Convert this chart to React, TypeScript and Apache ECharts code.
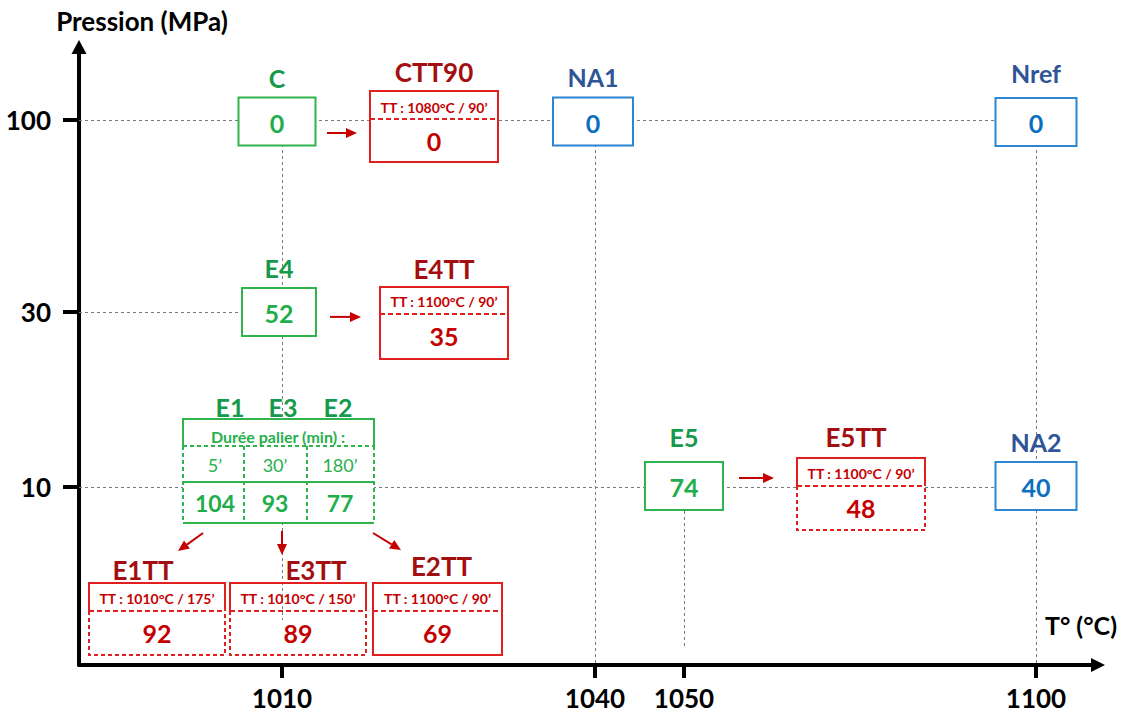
import React, { useEffect, useRef } from 'react';
import * as echarts from 'echarts';

// ---------------- data ----------------
const TEMP_TICKS = [1010, 1040, 1050, 1100];
const PRESS_TICKS = [10, 30, 100];

const SAMPLE_NAMES = ['C', 'NA1', 'Nref', 'E4', 'E5', 'NA2'];
const SAMPLE_TEMPS = [1010, 1040, 1100, 1010, 1050, 1100];
const SAMPLE_PRESSURES = [100, 100, 100, 30, 10, 10];
const SAMPLE_VALUES = [0, 0, 0, 52, 74, 40];
const SAMPLE_FAMILY = ['green', 'blue', 'blue', 'green', 'green', 'blue'];

const DWELL_TITLE = 'Durée palier (min) :';
const DWELL_NAMES = ['E1', 'E3', 'E2'];
const DWELL_TIMES = ['5’', '30’', '180’'];
const DWELL_VALUES = [104, 93, 77];
const DWELL_TEMP = 1010;
const DWELL_PRESSURE = 10;

const TT_NAMES = ['CTT90', 'E4TT', 'E5TT', 'E1TT', 'E3TT', 'E2TT'];
const TT_TREATMENTS = [
  'TT : 1080°C / 90’',
  'TT : 1100°C / 90’',
  'TT : 1100°C / 90’',
  'TT : 1010°C / 175’',
  'TT : 1010°C / 150’',
  'TT : 1100°C / 90’',
];
const TT_VALUES = [0, 35, 48, 92, 89, 69];
const TT_PARENTS = ['C', 'E4', 'E5', 'E1', 'E3', 'E2'];

// guide lines (dashed): horizontal at a pressure up to a temperature, vertical at a temperature from a pressure
const H_GUIDES = [
  { p: 100, to: 1100 },
  { p: 30, to: 1010 },
  { p: 10, to: 1100 },
];
const V_GUIDES = [
  { t: 1010, from: 100 },
  { t: 1040, from: 100 },
  { t: 1050, from: 10 },
  { t: 1100, from: 100 },
];

// ---------------- layout ----------------
const X_AXIS_LEN = 1019;
const TEMP_SLOT: Record<number, number> = { 1010: 203, 1040: 516, 1050: 605, 1100: 957 };
const Y_MIN = 3.273;
const Y_MAX = 158.1;
const V_GUIDE_END: Record<number, number> = { 1010: 4.34, 1040: Y_MIN, 1050: 3.64, 1100: Y_MIN };

const FONT = 'Lato';
const PAL: Record<string, { border: string; label: string; value: string }> = {
  green: { border: '#2fb34c', label: '#15994a', value: '#1fae4b' },
  blue: { border: '#2b85d0', label: '#2f5597', value: '#0b6fc0' },
  red: { border: '#e21f1f', label: '#a30f10', value: '#c40000' },
};
const GREEN_TXT = '#27b04b';

const SAMPLE_BOX = [
  { dx: -5, dy: 1.5, w: 77, h: 48, ly: -20 },
  { dx: -2, dy: 1.5, w: 80, h: 48, ly: -21 },
  { dx: 0, dy: 2, w: 81, h: 48, ly: -25 },
  { dx: -3, dy: 0, w: 74, h: 48, ly: -20 },
  { dx: 0, dy: -1, w: 78, h: 48, ly: -25 },
  { dx: 0, dy: -1, w: 81, h: 48, ly: -20 },
];

const TT_BOX = [
  { dx: 152, dDiv: -1, w: 128, head: 28, low: 43, lx: 0, ly: -19, dashedLow: false, fill: true },
  { dx: 162, dDiv: 2, w: 128, head: 27, low: 45, lx: 0, ly: -18, dashedLow: false, fill: true },
  { dx: 177, dDiv: -1, w: 128, head: 28, low: 44, lx: -5, ly: -21, dashedLow: true, fill: true },
  { dx: -125, dDiv: 124, w: 136, head: 28, low: 44, lx: -14, ly: -13, dashedLow: true, fill: true },
  { dx: 16, dDiv: 124, w: 136, head: 28, low: 44, lx: 18, ly: -13, dashedLow: true, fill: false },
  { dx: 155.5, dDiv: 124, w: 129, head: 28, low: 44, lx: 4, ly: -17, dashedLow: false, fill: true },
];

const ARROWS = [
  { parent: 'C', from: [45, 13], to: [75, 13] },
  { parent: 'E4', from: [48, 5], to: [79, 5] },
  { parent: 'E5', from: [55, -9], to: [90, -9] },
  { parent: 'E1', from: [-79, 46], to: [-104, 64] },
  { parent: 'E3', from: [0, 44], to: [0, 68] },
  { parent: 'E2', from: [91, 46], to: [119, 63] },
];

const DWELL_LAYOUT = {
  left: -99, right: 92, top: -68, bottom: 36,
  titleX: -4, titleY: -50, dashY: -41, row1Y: -22, midY: -5, row2Y: 16,
  colDiv: [-38, 25], colX: [-67, -7, 58], labelX: [-52, 1, 56], labelY: -80,
};

const slot = (t: number) => TEMP_SLOT[t];

function anchorOf(name: string): [number, number] {
  const i = SAMPLE_NAMES.indexOf(name);
  if (i >= 0) return [slot(SAMPLE_TEMPS[i]), SAMPLE_PRESSURES[i]];
  return [slot(DWELL_TEMP), DWELL_PRESSURE];
}

function txt(x: number, y: number, text: string, fill: string, size: number, bold = true) {
  return {
    type: 'text',
    x,
    y,
    style: {
      text,
      fill,
      fontSize: size,
      fontWeight: bold ? 'bold' : 'normal',
      fontFamily: FONT,
      align: 'center',
      verticalAlign: 'middle',
    },
  };
}

export default function App() {
  const ref = useRef<HTMLDivElement>(null);

  useEffect(() => {
    if (!ref.current) return;
    const chart = echarts.init(ref.current, null, { renderer: 'svg' });

    const axisFont = { color: '#000', fontFamily: FONT, fontWeight: 'bold', fontSize: 26 };

    const guideData = [
      ...H_GUIDES.map((g) => ({ coords: [[0, g.p], [slot(g.to), g.p]] })),
      ...V_GUIDES.map((g) => ({ coords: [[slot(g.t), g.from], [slot(g.t), V_GUIDE_END[g.t]]] })),
    ];

    const option: any = {
      animation: false,
      grid: { left: 79, right: 30, top: 47, bottom: 50, containLabel: false },
      xAxis: {
        type: 'value',
        min: 0,
        max: X_AXIS_LEN,
        name: 'T° (°C)',
        nameLocation: 'end',
        nameGap: 19,
        nameTextStyle: { ...axisFont, fontSize: 25, align: 'right', verticalAlign: 'bottom', padding: [0, 0, 28, 0] },
        axisLine: {
          show: true,
          onZero: false,
          symbol: ['none', 'triangle'],
          symbolSize: [14, 14],
          lineStyle: { color: '#000', width: 4 },
        },
        axisTick: {
          show: true,
          length: 13,
          customValues: TEMP_TICKS.map(slot),
          lineStyle: { color: '#000', width: 4 },
        },
        axisLabel: {
          show: true,
          customValues: TEMP_TICKS.map(slot),
          formatter: (v: number) => {
            const i = TEMP_TICKS.findIndex((t) => Math.abs(slot(t) - v) < 0.5);
            return i >= 0 ? String(TEMP_TICKS[i]) : '';
          },
          margin: 22,
          lineHeight: 22,
          ...axisFont,
        },
        splitLine: { show: false },
      },
      yAxis: {
        type: 'log',
        logBase: 10,
        min: Y_MIN,
        max: Y_MAX,
        name: 'Pression (MPa)',
        nameLocation: 'end',
        nameGap: 13,
        nameTextStyle: { ...axisFont, align: 'center', padding: [0, 0, 0, 126] },
        axisLine: {
          show: true,
          onZero: false,
          symbol: ['none', 'triangle'],
          symbolSize: [15, 14],
          lineStyle: { color: '#000', width: 4 },
        },
        axisTick: {
          show: true,
          length: 16,
          customValues: PRESS_TICKS,
          lineStyle: { color: '#000', width: 4 },
        },
        axisLabel: {
          show: true,
          customValues: PRESS_TICKS,
          formatter: (v: number) => String(Math.round(v)),
          margin: 28,
          ...axisFont,
        },
        splitLine: { show: false },
      },
      series: [
        {
          type: 'lines',
          coordinateSystem: 'cartesian2d',
          z: 1,
          silent: true,
          lineStyle: { color: '#7a7a7a', width: 1, type: [3, 3], opacity: 1 },
          data: guideData,
        },
        // sample boxes
        {
          type: 'custom',
          z: 3,
          clip: false,
          silent: true,
          data: SAMPLE_NAMES.map((_, i) => [slot(SAMPLE_TEMPS[i]), SAMPLE_PRESSURES[i]]),
          renderItem: (params: any, api: any) => {
            const i = params.dataIndex;
            const [ax, ay] = api.coord([api.value(0), api.value(1)]);
            const L = SAMPLE_BOX[i];
            const pal = PAL[SAMPLE_FAMILY[i]];
            const cx = ax + L.dx;
            const cy = ay + L.dy;
            const x = cx - L.w / 2;
            const y = cy - L.h / 2;
            return {
              type: 'group',
              children: [
                {
                  type: 'rect',
                  shape: { x, y, width: L.w, height: L.h },
                  style: { fill: '#fff', stroke: pal.border, lineWidth: 2 },
                },
                txt(cx, cy + 1, String(SAMPLE_VALUES[i]), pal.value, 25),
                txt(cx, y + L.ly, SAMPLE_NAMES[i], pal.label, 25),
              ],
            };
          },
        },
        // dwell group box
        {
          type: 'custom',
          z: 3,
          clip: false,
          silent: true,
          data: [[slot(DWELL_TEMP), DWELL_PRESSURE]],
          renderItem: (params: any, api: any) => {
            const [ax, ay] = api.coord([api.value(0), api.value(1)]);
            const D = DWELL_LAYOUT;
            const l = ax + D.left, r = ax + D.right, t = ay + D.top, b = ay + D.bottom;
            const dashY = ay + D.dashY, midY = ay + D.midY;
            const st = { stroke: PAL.green.border, lineWidth: 2, fill: 'none' };
            const ds = { ...st, lineDash: [4, 3] };
            const children: any[] = [
              { type: 'rect', shape: { x: l, y: t, width: r - l, height: b - t }, style: { fill: '#fff' } },
              { type: 'polyline', shape: { points: [[l, dashY], [l, t], [r, t], [r, dashY]] }, style: st },
              { type: 'line', shape: { x1: l, y1: dashY, x2: r, y2: dashY }, style: ds },
              { type: 'line', shape: { x1: l, y1: dashY, x2: l, y2: b }, style: ds },
              { type: 'line', shape: { x1: r, y1: dashY, x2: r, y2: b }, style: ds },
              { type: 'line', shape: { x1: l, y1: midY, x2: r, y2: midY }, style: st },
              { type: 'line', shape: { x1: l, y1: b, x2: r, y2: b }, style: st },
              ...D.colDiv.map((c) => ({
                type: 'line',
                shape: { x1: ax + c, y1: dashY, x2: ax + c, y2: b },
                style: ds,
              })),
              txt(ax + D.titleX, ay + D.titleY, DWELL_TITLE, GREEN_TXT, 16),
            ];
            DWELL_NAMES.forEach((n, k) => {
              children.push(txt(ax + D.colX[k], ay + D.row1Y, DWELL_TIMES[k], GREEN_TXT, 18, false));
              children.push(txt(ax + D.colX[k], ay + D.row2Y, String(DWELL_VALUES[k]), PAL.green.value, 23));
              children.push(txt(ax + D.labelX[k], ay + D.labelY, n, PAL.green.label, 25));
            });
            return { type: 'group', children };
          },
        },
        // heat-treated boxes
        {
          type: 'custom',
          z: 3,
          clip: false,
          silent: true,
          data: TT_PARENTS.map((p) => anchorOf(p)),
          renderItem: (params: any, api: any) => {
            const i = params.dataIndex;
            const [ax, ay] = api.coord([api.value(0), api.value(1)]);
            const L = TT_BOX[i];
            const cx = ax + L.dx;
            const div = ay + L.dDiv;
            const l = cx - L.w / 2, r = cx + L.w / 2;
            const top = div - L.head, bot = div + L.low;
            const st: any = { stroke: PAL.red.border, lineWidth: 2, fill: 'none' };
            const low: any = L.dashedLow ? { ...st, lineDash: [4, 3] } : st;
            const children: any[] = [];
            if (L.fill) {
              children.push({ type: 'rect', shape: { x: l, y: top, width: L.w, height: bot - top }, style: { fill: '#fff' } });
            }
            children.push(
              { type: 'polyline', shape: { points: [[l, div], [l, top], [r, top], [r, div]] }, style: st },
              { type: 'polyline', shape: { points: [[l, div], [l, bot], [r, bot], [r, div]] }, style: low },
              { type: 'line', shape: { x1: l, y1: div, x2: r, y2: div }, style: { ...st, lineDash: [5, 3] } },
              txt(cx, div - 12, TT_TREATMENTS[i], PAL.red.value, 14),
              txt(cx, div + 22, String(TT_VALUES[i]), PAL.red.value, 25),
              txt(cx + L.lx, top + L.ly, TT_NAMES[i], PAL.red.label, 26),
            );
            return { type: 'group', children };
          },
        },
        // arrows
        {
          type: 'custom',
          z: 4,
          clip: false,
          silent: true,
          data: ARROWS.map((a) => anchorOf(a.parent)),
          renderItem: (params: any, api: any) => {
            const i = params.dataIndex;
            const [ax, ay] = api.coord([api.value(0), api.value(1)]);
            const A = ARROWS[i];
            const x1 = ax + A.from[0], y1 = ay + A.from[1];
            const x2 = ax + A.to[0], y2 = ay + A.to[1];
            const ang = Math.atan2(y2 - y1, x2 - x1);
            const len = 11, half = 5;
            const bx = x2 - len * Math.cos(ang), by = y2 - len * Math.sin(ang);
            const px = -Math.sin(ang) * half, py = Math.cos(ang) * half;
            return {
              type: 'group',
              children: [
                { type: 'line', shape: { x1, y1, x2: bx, y2: by }, style: { stroke: '#c40000', lineWidth: 2 } },
                {
                  type: 'polygon',
                  shape: { points: [[x2, y2], [bx + px, by + py], [bx - px, by - py]] },
                  style: { fill: '#c40000' },
                },
              ],
            };
          },
        },
      ],
    };

    chart.setOption(option);
    return () => chart.dispose();
  }, []);

  return (
    <div
      ref={ref}
      style={{ position: 'absolute', left: 0, top: 0, width: 1128, height: 715, background: '#fff' }}
    />
  );
}
